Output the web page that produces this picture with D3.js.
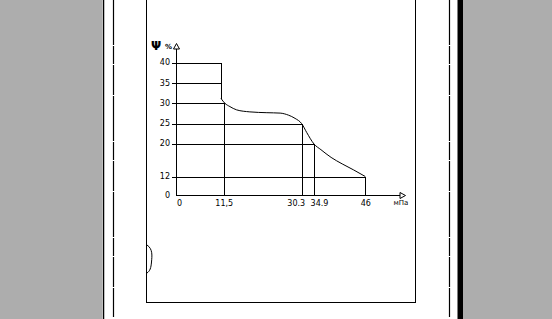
<!DOCTYPE html>
<html>
<head>
<meta charset="utf-8">
<script src="https://cdnjs.cloudflare.com/ajax/libs/d3/7.8.5/d3.min.js"></script>
<style>
  html, body { margin: 0; padding: 0; background: #adadad; }
  svg { display: block; }
  text { font-family: "DejaVu Sans", sans-serif; fill: #000; }
</style>
</head>
<body>
<div id="chart"></div>
<script>
// values
var yTicks = [0, 12, 20, 25, 30, 35, 40];
var xTicks = [0, 11.5, 30.3, 34.9, 46];
var xTickLabels = ["0", "11,5", "30.3", "34.9", "46"];

// the step (MPa, %)
var stepX = [0, 10.85, 10.85];
var stepY = [40, 40, 31.2];
// the falling curve after the step (MPa, %)
var curveX = [10.85, 11.8, 13.0, 14.6, 17.8, 21.9, 25.1, 27.1, 28.7, 30.3, 32.2, 34.9, 36.4, 38.6, 41.0, 43.5, 46];
var curveY = [31.2, 30.0, 29.2, 28.4, 27.9, 27.7, 27.6, 27.1, 26.3, 25.0, 22.8, 20, 18.6, 16.7, 15.1, 13.6, 12];

// horizontal guides: level -> where they stop
var guideY = [12, 20, 25, 30, 35, 40];
var guideYEnd = [46, 34.9, 30.3, 11.5, 10.85, 10.85];
// vertical guides: position -> level they start from
var guideX = [11.5, 30.3, 34.9, 46];
var guideXTop = [30, 25, 20, 12];

var width = 552, height = 319;

var svg = d3.select("#chart").append("svg")
    .attr("width", width)
    .attr("height", height);

// page
svg.append("rect").attr("x", 102).attr("y", 0).attr("width", 356).attr("height", height).attr("fill", "#fff");
svg.append("line").attr("x1", 103.5).attr("x2", 103.5).attr("y1", 0).attr("y2", height)
  .attr("stroke", "#000").attr("stroke-width", 1.5);
svg.append("rect").attr("x", 457.5).attr("y", 0).attr("width", 5.5).attr("height", height).attr("fill", "#000");
[113, 449].forEach(function (px) {
  svg.append("line").attr("x1", px + 0.5).attr("x2", px + 0.5).attr("y1", 0).attr("y2", 317)
    .attr("stroke", "#000").attr("stroke-width", 1.2)
    .attr("stroke-dasharray", "45,1,18,1,30,1");
});
// inner frame
svg.append("path")
  .attr("d", "M146.5,-2V302.5H415.5V-2")
  .attr("fill", "none").attr("stroke", "#000").attr("stroke-width", 1)
  .attr("shape-rendering", "crispEdges");
// little bracket mark
svg.append("path")
  .attr("d", "M147,245 C153,249 152,256 151.5,262 C151,268 150,271 147,273")
  .attr("fill", "none").attr("stroke", "#000").attr("stroke-width", 1);

var x = d3.scaleLinear()
  .domain([0, 30.3, 34.9, 46])
  .range([176, 301.7, 314, 365.3]);

var y = d3.scaleLinear()
  .domain([0, 12, 40])
  .range([195, 176.5, 62.7]);

var g = svg.append("g").attr("shape-rendering", "crispEdges");

// horizontal guides
g.selectAll(".hguide")
  .data(guideY)
  .enter().append("line")
  .attr("class", "hguide")
  .attr("x1", x(0))
  .attr("x2", function (d, i) { return x(guideYEnd[i]); })
  .attr("y1", function (d) { return Math.round(y(d)) + 0.5; })
  .attr("y2", function (d) { return Math.round(y(d)) + 0.5; })
  .attr("stroke", "#000");

// vertical guides
g.selectAll(".vguide")
  .data(guideX)
  .enter().append("line")
  .attr("class", "vguide")
  .attr("x1", function (d) { return Math.round(x(d)) + 0.5; })
  .attr("x2", function (d) { return Math.round(x(d)) + 0.5; })
  .attr("y1", function (d, i) { return y(guideXTop[i]); })
  .attr("y2", y(0))
  .attr("stroke", "#000");

// y axis
var yAxis = svg.append("g")
  .attr("transform", "translate(" + (x(0) + 0.5) + ",0)")
  .call(d3.axisLeft(y).tickValues(yTicks).tickSize(5).tickPadding(1.5).tickSizeOuter(0));
yAxis.select(".domain").remove();
yAxis.selectAll(".tick line").attr("shape-rendering", "crispEdges")
  .attr("stroke", function (d) { return d === 0 ? "none" : "#000"; });
yAxis.selectAll("text").attr("font-size", 8).attr("font-family", "DejaVu Sans").attr("dy", "0.25em");

// x axis
var xAxis = svg.append("g")
  .attr("transform", "translate(0," + (y(0) + 0.5) + ")")
  .call(d3.axisBottom(x).tickValues(xTicks).tickSize(0).tickPadding(5)
    .tickFormat(function (d, i) { return xTickLabels[i]; }));
xAxis.select(".domain").remove();
xAxis.selectAll("text").attr("font-size", 8).attr("font-family", "DejaVu Sans")
  .attr("dx", function (d) { return d === 0 ? 3 : d === 30.3 ? -6 : d === 34.9 ? 5 : 0; });

// axis lines with open arrow heads
var ax = Math.round(x(0)) + 0.5, ay = Math.round(y(0)) + 0.5;
svg.append("path")
  .attr("d", "M" + ax + ",49V" + ay + "H400")
  .attr("fill", "none").attr("stroke", "#000").attr("shape-rendering", "crispEdges");
svg.append("path")
  .attr("d", "M" + ax + ",43.5L" + (ax - 3) + ",49L" + (ax + 3) + ",49Z")
  .attr("fill", "#fff").attr("stroke", "#000").attr("stroke-width", 1);
svg.append("path")
  .attr("d", "M405.5," + ay + "L400," + (ay - 3) + "L400," + (ay + 3) + "Z")
  .attr("fill", "#fff").attr("stroke", "#000").attr("stroke-width", 1);

// axis titles
svg.append("text").attr("x", 151).attr("y", 50).attr("font-size", 12).attr("font-weight", "bold").text("Ψ");
svg.append("text").attr("x", 165).attr("y", 49).attr("font-size", 7).attr("font-weight", "bold").text("%");
svg.append("text").attr("x", 401).attr("y", 205).attr("font-size", 7).attr("text-anchor", "middle").text("мПа");

// step + curve
var xy = function (xs, ys) { return xs.map(function (d, i) { return [d, ys[i]]; }); };

svg.append("path")
  .datum(xy(stepX, stepY))
  .attr("d", d3.line().x(function (d) { return Math.round(x(d[0])) + 0.5; }).y(function (d) { return Math.round(y(d[1])) + 0.5; }))
  .attr("fill", "none")
  .attr("stroke", "#000")
  .attr("shape-rendering", "crispEdges");

svg.append("path")
  .datum(xy(curveX, curveY))
  .attr("d", d3.line()
    .x(function (d) { return x(d[0]); })
    .y(function (d) { return y(d[1]); })
    .curve(d3.curveMonotoneX))
  .attr("fill", "none")
  .attr("stroke", "#000")
  .attr("stroke-width", 1);
</script>
</body>
</html>
